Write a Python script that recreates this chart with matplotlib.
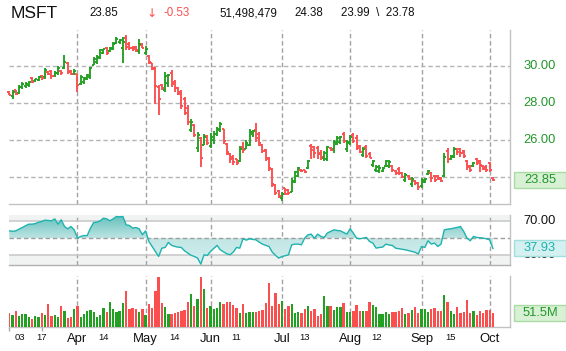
import numpy as np
import pandas as pd
import matplotlib
matplotlib.use('Agg')
import matplotlib.pyplot as plt
from matplotlib.patches import Rectangle, PathPatch
from matplotlib.path import Path
from matplotlib.colors import LinearSegmentedColormap
from matplotlib.transforms import blended_transform_factory, offset_copy

plt.rcParams['font.family'] = ['Liberation Sans', 'DejaVu Sans']

# ---------------- data ----------------
symbol = 'MSFT'
holidays = ['2010-04-02', '2010-05-31', '2010-07-05', '2010-09-06']
dates = pd.bdate_range('2010-03-03', '2010-10-04')
dates = dates[~dates.isin(pd.to_datetime(holidays))]

opens = [28.60,28.40,28.68,28.55,28.85,28.90,28.95,29.35,29.18,29.25,
         29.48,29.40,29.68,29.75,29.45,29.60,29.75,29.90,30.15,29.75,
         29.55,29.55,29.05,29.15,29.30,29.40,30.05,30.20,30.45,30.70,
         30.95,30.80,30.90,31.25,31.30,31.00,31.50,31.20,31.00,31.05,
         30.80,31.15,30.70,30.55,30.15,29.90,28.85,28.95,28.70,29.10,
         29.65,29.15,28.80,28.60,28.20,27.75,26.55,26.80,25.55,26.10,
         25.75,26.20,25.65,26.00,26.30,26.55,26.60,25.80,25.25,25.10,
         24.95,24.85,25.60,25.50,25.75,26.30,26.55,26.30,25.75,25.45,
         25.00,24.45,23.55,23.25,22.85,23.40,23.30,23.20,23.75,24.05,
         24.40,24.40,24.50,25.70,25.60,25.55,25.30,25.05,25.00,25.55,
         25.50,25.80,25.90,26.30,25.50,25.85,26.25,26.10,25.65,25.20,
         25.60,25.25,24.65,24.40,24.30,24.35,24.60,24.60,24.60,24.35,
         24.45,24.20,23.85,24.05,23.60,23.80,23.70,23.50,23.75,24.15,
         24.20,24.05,24.05,23.95,24.05,25.40,25.00,25.10,25.50,25.50,
         25.40,24.85,24.60,24.60,24.95,24.85,24.60,24.55,24.75,23.95]

highs = [28.63,28.68,28.72,28.95,29.14,29.14,29.17,29.41,29.32,29.44,
         29.53,29.89,29.71,29.80,29.71,29.98,29.80,30.61,30.22,29.80,
         29.86,29.59,29.50,29.41,29.59,29.95,30.49,30.58,30.94,30.94,
         31.03,31.03,31.30,31.57,31.48,31.57,31.69,31.30,31.10,31.10,
         31.44,31.25,31.08,30.58,30.18,29.95,28.95,29.05,29.68,29.59,
         29.77,29.23,28.86,28.68,28.32,27.87,27.15,26.88,26.43,26.16,
         26.34,26.25,26.40,26.50,26.70,26.95,26.60,25.85,25.30,25.20,
         25.00,25.70,25.90,26.00,26.60,26.55,26.90,26.45,25.80,25.50,
         25.10,24.50,23.60,23.30,23.20,23.40,23.35,23.95,24.30,24.55,
         24.45,24.40,24.90,25.80,25.65,25.65,25.45,25.40,25.70,25.60,
         26.00,26.20,26.20,26.45,26.00,26.27,26.36,26.27,25.73,25.60,
         25.73,25.37,24.92,24.65,24.65,24.56,24.92,24.92,24.65,24.38,
         24.56,24.29,24.20,24.11,24.02,23.84,23.75,23.93,23.93,24.38,
         24.29,24.11,24.11,24.02,25.28,25.55,25.19,25.64,25.55,25.55,
         25.46,24.92,24.65,24.83,25.01,24.92,24.65,24.65,24.83,23.99]

lows = [28.41,28.23,28.41,28.50,28.77,28.81,28.86,29.10,29.14,29.17,
        29.23,29.32,29.50,29.32,29.41,29.50,29.53,29.86,29.59,29.50,
        29.50,28.59,28.95,29.05,29.23,29.32,30.04,30.13,30.40,30.67,
        30.58,30.76,30.85,31.21,31.21,30.18,30.85,30.85,30.80,30.75,
        30.67,30.95,30.58,30.13,29.77,27.96,27.33,28.68,28.60,28.86,
        28.86,28.60,28.41,27.69,27.33,26.79,26.43,26.16,25.35,24.54,
        25.71,25.75,25.55,25.80,26.20,26.45,25.80,25.20,24.75,24.65,
        24.65,24.80,25.30,25.50,25.70,26.15,25.90,25.70,25.30,24.85,
        24.30,23.45,23.00,22.85,22.70,23.00,23.05,23.20,23.70,24.00,
        24.25,24.20,24.45,24.95,25.05,25.00,24.90,24.85,24.85,25.40,
        25.30,25.75,25.80,25.82,25.37,25.73,25.82,25.46,25.28,25.10,
        25.01,25.01,24.56,24.29,24.20,24.29,24.56,24.47,24.29,24.11,
        24.11,23.93,23.75,23.84,23.48,23.57,23.30,23.39,23.66,24.11,
        23.75,23.75,23.84,23.75,24.02,24.74,24.92,25.01,25.19,25.10,
        25.01,24.38,24.29,24.56,24.65,24.29,24.38,24.29,24.29,23.78]

closes = [28.45,28.62,28.50,28.85,29.05,29.05,29.12,29.15,29.28,29.40,
          29.35,29.80,29.55,29.45,29.62,29.90,29.60,30.20,29.70,29.55,
          29.75,29.00,29.40,29.35,29.50,29.90,30.40,30.50,30.85,30.90,
          30.70,30.95,31.20,31.45,31.40,31.30,31.05,30.95,30.90,30.85,
          31.20,31.00,30.90,30.20,29.85,28.90,28.20,28.80,29.45,29.50,
          29.05,28.80,28.50,27.85,27.45,26.95,26.95,26.25,26.25,25.05,
          26.15,25.85,26.15,26.35,26.60,26.85,25.95,25.35,24.95,24.80,
          24.75,25.50,25.45,25.85,26.45,26.50,26.10,25.85,25.40,25.05,
          24.50,23.60,23.15,22.95,23.10,23.10,23.15,23.80,24.25,24.50,
          24.30,24.25,24.85,25.45,25.30,25.25,25.10,25.30,25.60,25.45,
          25.90,26.10,26.15,25.95,25.90,26.15,25.95,25.55,25.35,25.50,
          25.15,25.05,24.85,24.55,24.50,24.50,24.85,24.80,24.40,24.20,
          24.20,24.00,24.10,23.90,23.90,23.65,23.45,23.85,23.90,24.30,
          23.95,23.85,23.90,23.80,25.10,25.00,25.15,25.50,25.35,25.30,
          25.15,24.55,24.40,24.75,24.75,24.65,24.45,24.40,24.38,23.85]

# volume in millions of shares
volumes = [50,42,56,38,48,46,35,30,38,35,
           49,42,83,38,42,35,74,56,31,35,
           64,74,35,47,56,60,53,35,42,67,
           53,90,64,53,58,86,128,64,67,64,
           53,64,42,83,67,130,178,86,71,46,
           46,49,53,58,60,89,118,74,100,180,
           136,67,74,64,67,89,83,89,89,79,
           67,49,83,49,53,53,53,56,60,85,
           158,76,121,83,94,65,76,83,49,53,
           49,65,76,56,65,40,46,110,76,76,
           60,71,71,85,53,53,58,79,56,56,
           56,89,79,72,46,46,54,46,53,53,
           56,67,46,49,60,71,49,64,64,53,
           64,67,56,56,114,89,56,46,73,50,
           53,96,49,56,43,56,49,60,62,51.5]
last_volume = 51498479

rsi = [58.5,58.0,58.5,60.5,62.4,64.4,66.3,66.3,67.0,68.5,
       69.4,71.0,70.6,70.2,72.5,66.3,71.4,63.6,60.9,63.6,
       59.7,50.0,52.0,53.0,53.0,61.7,68.3,68.6,70.2,73.3,
       72.5,70.2,72.5,75.2,74.9,75.2,65.5,64.8,61.7,62.4,
       60.9,53.9,58.5,46.1,40.3,34.5,28.6,38.3,39.1,45.0,
       41.5,40.3,39.5,39.1,35.2,32.5,30.0,28.6,26.7,19.7,
       30.6,29.8,34.5,38.0,41.5,36.4,34.0,31.7,30.6,33.7,
       39.1,38.3,49.2,47.7,49.2,48.5,48.0,45.3,43.0,41.5,
       40.3,33.7,30.0,26.7,28.6,29.5,30.6,42.2,43.0,43.0,
       42.2,50.0,53.9,54.7,50.0,54.7,52.0,50.8,56.0,57.8,
       59.7,59.0,58.5,56.6,54.7,60.9,55.8,50.0,49.2,50.0,
       50.8,46.0,44.2,38.3,39.1,39.5,43.0,42.0,41.5,38.3,
       37.6,37.0,36.4,35.5,34.5,33.5,31.4,40.3,39.1,46.9,
       43.0,44.2,40.3,43.0,59.7,60.5,60.9,61.7,62.5,63.6,
       57.8,50.0,46.9,52.0,50.8,50.5,50.0,49.2,48.0,37.93]

month_labels = ['Apr', 'May', 'Jun', 'Jul', 'Aug', 'Sep', 'Oct']
day_label_dates = ['2010-03-03', '2010-03-17', '2010-04-14', '2010-05-14',
                   '2010-06-11', '2010-07-13', '2010-08-12', '2010-09-15']
day_labels = ['03', '17', '14', '14', '11', '13', '12', '15']
price_ticks = [24, 26, 28, 30]
rsi_ticks = [70, 30]

# ---------------- style ----------------
GREEN = '#22a022'
RED = '#fb4f4f'
GREEN_TXT = '#22962a'
TEAL = '#1db3ae'
GRID = '#b4b4b4'
VGRID = '#a2a2a2'
SPINE = '#c2c2c2'

W, H = 566, 351
fig = plt.figure(figsize=(W / 100, H / 100), dpi=100)
fig.patch.set_facecolor('white')

L, R = 9.3, 510.0


def rect(t, b):
    return [L / W, 1 - b / H, (R - L) / W, (b - t) / H]


axp = fig.add_axes(rect(30, 204))
axr = fig.add_axes(rect(215, 265.3))
axv = fig.add_axes(rect(275.5, 327))

o = np.array(opens); h = np.array(highs); l = np.array(lows); c = np.array(closes)
v = np.array(volumes); r = np.array(rsi)
n = len(c)
x = np.arange(n)
XL = (0, 154.25)
cols = np.where(c >= o, GREEN, RED)

# month start positions
month_idx = [i for i in range(1, n) if dates[i].month != dates[i - 1].month]
day_idx = [int(np.where(dates == pd.Timestamp(d))[0][0]) for d in day_label_dates]

dash = (0, (3.2, 2.0))
for ax in (axp, axr, axv):
    ax.set_xlim(*XL)
    for s in ('top', 'left'):
        ax.spines[s].set_visible(False)
    ax.spines['right'].set_color(SPINE)
    ax.spines['bottom'].set_color(SPINE)
    ax.spines['right'].set_linewidth(1.0)
    ax.spines['bottom'].set_linewidth(1.0)
    ax.tick_params(left=False, right=False, bottom=False, labelleft=False,
                   labelbottom=False, labelright=False)
    for mi in month_idx:
        ax.axvline(mi, color=VGRID, lw=1.0, ls=dash, zorder=1)

# ---------------- price panel ----------------
axp.set_ylim(22.54, 31.95)
for pv in price_ticks:
    axp.axhline(pv, color=GRID, lw=1.0, ls=dash, zorder=1)
tk = 0.62
axp.vlines(x, l, h, colors=cols, lw=1.35, zorder=3, clip_on=False)
axp.hlines(o, x - tk, x, colors=cols, lw=1.35, zorder=3, clip_on=False)
axp.hlines(c, x, x + tk, colors=cols, lw=1.35, zorder=3, clip_on=False)

# ---------------- RSI panel ----------------
R0, R1 = 18.3, 77.0
axr.set_ylim(R0, R1)
axr.axhspan(70, R1, color='#f1f3f3', lw=0, zorder=0)
axr.axhspan(R0, 30, color='#f1f3f3', lw=0, zorder=0)
axr.axhline(70, color='#c6c6c6', lw=1.1, zorder=1)
axr.axhline(30, color='#c6c6c6', lw=1.1, zorder=1)
axr.axhline(50, color='#9e9e9e', lw=1.0, ls=dash, zorder=4)
axr.spines['bottom'].set_color('#b0b0b0')

verts = list(zip(x, r)) + [(x[-1], 50), (x[0], 50), (x[0], r[0])]
codes = [Path.MOVETO] + [Path.LINETO] * (len(verts) - 2) + [Path.CLOSEPOLY]
poly = PathPatch(Path(verts, codes), transform=axr.transData, fc='none', ec='none')
axr.add_patch(poly)
cmap = LinearSegmentedColormap.from_list('rsig', ['#d2eeee', '#c3e7e6', '#5fbdb9'])
grad = np.linspace(0, 1, 256).reshape(-1, 1)
im = axr.imshow(grad, extent=[XL[0], XL[1], R0, R1], origin='lower', aspect='auto',
                cmap=cmap, zorder=2, interpolation='bilinear')
im.set_clip_path(poly)
axr.plot(x, r, color=TEAL, lw=1.0, zorder=5)
axr.set_xlim(*XL)
axr.set_ylim(R0, R1)

# ---------------- volume panel ----------------
axv.set_ylim(0, 185)
axv.bar(x, v, width=0.72, color=cols, zorder=3)
axv.set_xticks([day_idx[0], day_idx[1]])
axv.tick_params(bottom=True, length=3, width=1.0, color='#a8a8a8')
axv.set_xlim(*XL)

# ---------------- right-hand labels ----------------
def ypix(ax, val):
    return ax.transData.transform((0, val))[1]


LX = 540 / W
last_close_px = ypix(axp, c[-1])
for pv in price_ticks:
    yp = ypix(axp, pv)
    if abs(yp - last_close_px) < 10:   # fully covered by the last-price box
        continue
    fig.text(LX, yp / H, f'{pv:.2f}', ha='center', va='center',
             color=GREEN_TXT, fontsize=9.3, zorder=3)
for rv in rsi_ticks:
    fig.text(LX, ypix(axr, rv) / H, f'{rv:.2f}', ha='center', va='center',
             color='#111111', fontsize=9.3, zorder=3)


def value_box(ax, val, text, fc, ec, tc):
    yc = ypix(ax, val)
    bx0, bx1, bh = 514.3, 565.7, 16
    fig.patches.append(Rectangle((bx0 / W, (yc - bh / 2) / H), (bx1 - bx0) / W, bh / H,
                                 transform=fig.transFigure, fc=fc, ec=ec, lw=1.0,
                                 zorder=5))
    fig.text((bx0 + bx1) / 2 / W, yc / H, text, ha='center', va='center',
             color=tc, fontsize=9.3, zorder=6)


value_box(axp, c[-1], f'{c[-1]:.2f}', '#d8f0d4', '#a9dca2', GREEN_TXT)
value_box(axr, r[-1], f'{r[-1]:.2f}', '#d4f0f0', '#a2dfdd', TEAL)
value_box(axv, v[-1], f'{v[-1]:.1f}M', '#d8f0d4', '#a9dca2', GREEN_TXT)

# ---------------- x labels ----------------
tr = blended_transform_factory(axv.transData, fig.transFigure)
ytop = 1 - 332.8 / H
for mi, lab in zip(month_idx, month_labels):
    axv.text(mi, ytop, lab, transform=tr, ha='center', va='top', fontsize=9.4,
             color='#111111', clip_on=False)
for k, (di, lab) in enumerate(zip(day_idx, day_labels)):
    t = offset_copy(tr, fig=fig, x=10.7, y=0, units='dots') if k == 0 else tr
    axv.text(di, ytop, lab, transform=t, ha='center', va='top', fontsize=6.8,
             color='#111111', clip_on=False)

# ---------------- header ----------------
chg = c[-1] - c[-2]
hy = 1 - 13.5 / H
fig.text(11 / W, hy, symbol, ha='left', va='center', fontsize=12.5, color='#111111')
fig.text(89 / W, hy, f'{c[-1]:.2f}', ha='left', va='center', fontsize=8.3, color='#111111')
fig.text(146.5 / W, hy, '\u2193', ha='left', va='center', fontsize=8.8, color=RED,
         family=['DejaVu Sans'])
fig.text(163 / W, hy, f'{chg:.2f}', ha='left', va='center', fontsize=8.3, color=RED)
fig.text(219 / W, hy, f'{last_volume:,}', ha='left', va='center', fontsize=8.3, color='#111111')
fig.text(294 / W, hy, f'{c[-2]:.2f}', ha='left', va='center', fontsize=8.3, color='#111111')
fig.text(341 / W, hy, f'{h[-1]:.2f}  \\  {l[-1]:.2f}', ha='left', va='center',
         fontsize=8.3, color='#111111')

fig.savefig('out.png', dpi=100, facecolor='white')
